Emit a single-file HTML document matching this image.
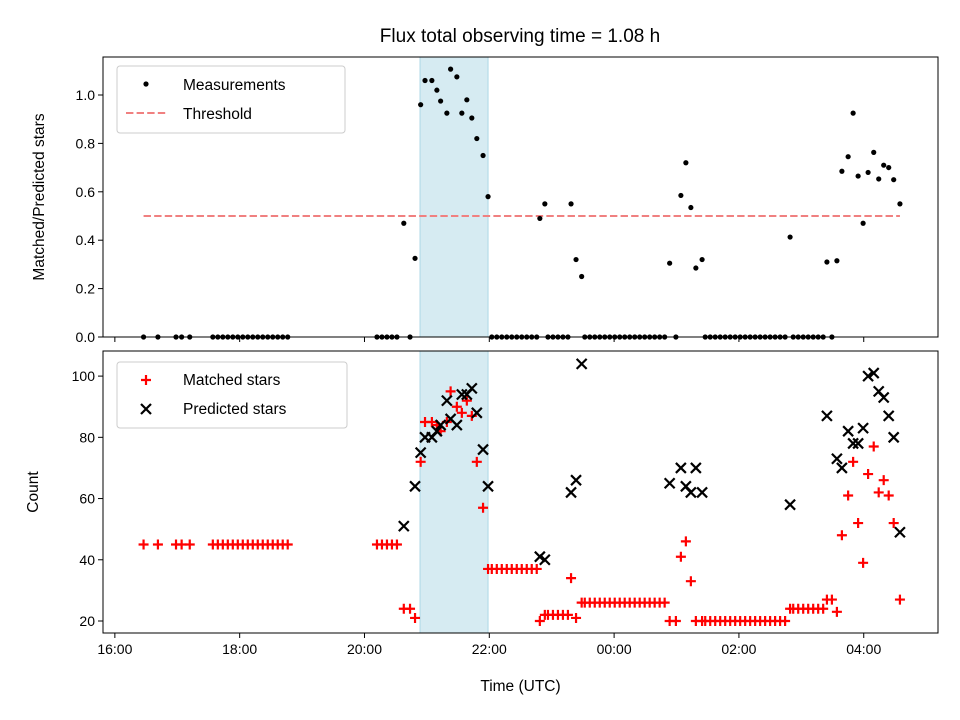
<!DOCTYPE html>
<html><head><meta charset="utf-8"><style>
body{margin:0;background:#fff;}
svg{display:block;font-family:"Liberation Sans","DejaVu Sans",sans-serif;}
</style></head><body>
<svg id="fig" width="960" height="720" viewBox="0 0 960 720"></svg>
<script>
// ---- data (times in hours since 00:00 of first day; >24 = next day) ----
const ratioTimes = [20.63,20.81,20.90,20.97,21.08,21.16,21.22,21.32,21.38,21.48,21.56,21.64,21.72,21.80,21.90,21.98,
 22.81,22.89,23.31,23.39,23.48,24.89,25.07,25.15,25.23,25.31,25.41,26.82,27.41,27.57,27.65,27.75,27.83,27.91,27.99,28.07,28.16,28.24,28.32,28.40,28.48,28.58];
const ratioValues = [0.47,0.325,0.96,1.06,1.06,1.02,0.975,0.925,1.107,1.075,0.925,0.98,0.905,0.82,0.75,0.58,
 0.49,0.55,0.55,0.32,0.25,0.305,0.585,0.72,0.535,0.285,0.32,0.413,0.31,0.315,0.685,0.745,0.925,0.665,0.47,0.68,0.763,0.653,0.71,0.70,0.65,0.55];
const predictedCounts = [51,64,75,80,80,82,84,92,86,84,94,94,96,88,76,64,
 41,40,62,66,104,65,70,64,62,70,62,58,87,73,70,82,78,78,83,100,101,95,93,87,80,49];
const matchedCounts = [24,21,72,85,85,84,82,85,95,90,88,92,87,72,57,37,
 20,22,34,21,26,20,41,46,33,20,20,24,27,23,48,61,72,52,39,68,77,62,66,61,52,27];
const zeroTimes = [16.46,16.69,16.98,17.07,17.20,
 17.57,17.65,17.73,17.81,17.89,17.97,18.05,18.13,18.21,18.29,18.37,18.45,18.53,18.61,18.69,18.77,
 20.20,20.28,20.36,20.44,20.52,20.73,
 22.04,22.12,22.20,22.28,22.36,22.44,22.52,22.60,22.68,22.76,
 22.94,23.02,23.10,23.18,23.26,
 23.53,23.61,23.69,23.77,23.85,23.93,24.01,24.09,24.17,24.25,24.33,24.41,24.49,24.57,24.65,24.73,24.81,
 24.99,
 25.46,25.54,25.62,25.70,25.78,25.86,25.94,26.02,26.10,26.18,26.26,26.34,26.42,26.50,26.58,26.66,26.74,
 26.87,26.95,27.03,27.11,27.19,27.27,27.35,27.49];
const zeroMatched = [45,45,45,45,45,
 45,45,45,45,45,45,45,45,45,45,45,45,45,45,45,45,
 45,45,45,45,45,24,
 37,37,37,37,37,37,37,37,37,37,
 22,22,22,22,22,
 26,26,26,26,26,26,26,26,26,26,26,26,26,26,26,26,26,
 20,
 20,20,20,20,20,20,20,20,20,20,20,20,20,20,20,20,20,
 24,24,24,24,24,24,24,27];
const xTicks = [16,18,20,22,24,26,28];
const xTickLabels = ["16:00","18:00","20:00","22:00","00:00","02:00","04:00"];
const topTicks = [0,0.2,0.4,0.6,0.8,1.0];
const topTickLabels = ["0.0","0.2","0.4","0.6","0.8","1.0"];
const botTicks = [20,40,60,80,100];
const threshold = 0.5;
const shadeStart = 20.89, shadeEnd = 21.98;

// ---- scales ----
const L=103,R=938, T1=57,B1=337, T2=351,B2=633;
const xMin=15.81,xMax=29.19;
const x = h => L + (h-xMin)/(xMax-xMin)*(R-L);
const y1 = v => B1 - v/1.157*(B1-T1);
const y2 = v => B2 - (v-16.08)/(108.2-16.08)*(B2-T2);
const NS="http://www.w3.org/2000/svg";
const svg=document.getElementById('fig');
function mk(tag,attrs,parent){const e=document.createElementNS(NS,tag);for(const k in attrs)e.setAttribute(k,attrs[k]);(parent||svg).appendChild(e);return e;}
function txt(s,attrs,parent){const e=mk('text',attrs,parent);e.textContent=s;return e;}

const title=txt("Flux total observing time = 1.08 h",{x:520,y:42,'font-size':19,'text-anchor':'middle',fill:'#000'});



function panel(top,bot,name){
  const g=mk('g',{});
  
  
  const r=mk('rect',{},g);
  r.setAttribute('x',x(shadeStart));r.setAttribute('y',top);r.setAttribute('width',x(shadeEnd)-x(shadeStart));r.setAttribute('height',bot-top);
  r.setAttribute('fill','#add8e6');r.setAttribute('fill-opacity','0.5');r.setAttribute('stroke','#add8e6');
  
  
  return g;
}
const gTop=panel(T1,B1,'ratio-panel');
const gBot=panel(T2,B2,'count-panel');

const th=mk('line',{x1:x(16.46),x2:x(28.58),y1:y1(threshold),y2:y1(threshold),stroke:'#f08080','stroke-width':2,'stroke-dasharray':'7.4,3.2'},gTop);



ratioTimes.forEach((t,i)=>{
  const c=mk('circle',{cx:x(t),cy:y1(ratioValues[i]),r:2.6,fill:'#000'},gTop);
  
  
});
zeroTimes.forEach(t=>{
  const c=mk('circle',{cx:x(t),cy:y1(0),r:2.6,fill:'#000'},gTop);
  
  
});

function plus(cx,cy,g){return mk('path',{d:`M${cx-5},${cy}H${cx+5}M${cx},${cy-5}V${cy+5}`,stroke:'#f00','stroke-width':2.2},g);}
function cross(cx,cy,g){return mk('path',{d:`M${cx-5},${cy-5}L${cx+5},${cy+5}M${cx-5},${cy+5}L${cx+5},${cy-5}`,stroke:'#000','stroke-width':2.2},g);}

ratioTimes.forEach((t,i)=>{
  const p=plus(x(t),y2(matchedCounts[i]),gBot);
  
  
});
zeroTimes.forEach((t,i)=>{
  const p=plus(x(t),y2(zeroMatched[i]),gBot);
  
  
});
ratioTimes.forEach((t,i)=>{
  const p=cross(x(t),y2(predictedCounts[i]),gBot);
  
  
});

function frame(top,bot,name){
  const r=mk('rect',{x:L,y:top,width:R-L,height:bot-top,fill:'none',stroke:'#000','stroke-width':1});
  
  
}
frame(T1,B1,'ratio-axes-frame');frame(T2,B2,'count-axes-frame');

xTicks.forEach((t,i)=>{
  mk('line',{x1:x(t),x2:x(t),y1:B1,y2:B1+5,stroke:'#000'});
  mk('line',{x1:x(t),x2:x(t),y1:B2,y2:B2+5,stroke:'#000'});
  const l=txt(xTickLabels[i],{x:x(t),y:B2+21,'font-size':14,'text-anchor':'middle'});
  
  
});
topTicks.forEach((v,i)=>{
  mk('line',{x1:L-5,x2:L,y1:y1(v),y2:y1(v),stroke:'#000'});
  const l=txt(topTickLabels[i],{x:L-8,y:y1(v)+5,'font-size':14,'text-anchor':'end'});
  
  
});
botTicks.forEach(v=>{
  mk('line',{x1:L-5,x2:L,y1:y2(v),y2:y2(v),stroke:'#000'});
  const l=txt(String(v),{x:L-8,y:y2(v)+5,'font-size':14,'text-anchor':'end'});
  
  
});

const yl1=txt("Matched/Predicted stars",{x:0,y:0,'font-size':15.5,'text-anchor':'middle',transform:`translate(44,${(T1+B1)/2}) rotate(-90)`});


const yl2=txt("Count",{x:0,y:0,'font-size':15.5,'text-anchor':'middle',transform:`translate(38,${(T2+B2)/2}) rotate(-90)`});


const xl=txt("Time (UTC)",{x:(L+R)/2,y:691,'font-size':15.5,'text-anchor':'middle'});



const lg1=mk('g',{});


mk('rect',{x:117,y:66,width:228,height:67,rx:3,fill:'#fff','fill-opacity':0.8,stroke:'#ccc'},lg1);
mk('circle',{cx:146,cy:84,r:2.6,fill:'#000'},lg1);
txt("Measurements",{x:183,y:90,'font-size':15.5},lg1);
mk('line',{x1:126,x2:166,y1:113,y2:113,stroke:'#f08080','stroke-width':2,'stroke-dasharray':'7.4,3.2'},lg1);
txt("Threshold",{x:183,y:119,'font-size':15.5},lg1);

const lg2=mk('g',{});


mk('rect',{x:117,y:362,width:230,height:66,rx:3,fill:'#fff','fill-opacity':0.8,stroke:'#ccc'},lg2);
plus(146,380,lg2);
txt("Matched stars",{x:183,y:385,'font-size':15.5},lg2);
cross(146,409,lg2);
txt("Predicted stars",{x:183,y:414,'font-size':15.5},lg2);
</script>
</body></html>
